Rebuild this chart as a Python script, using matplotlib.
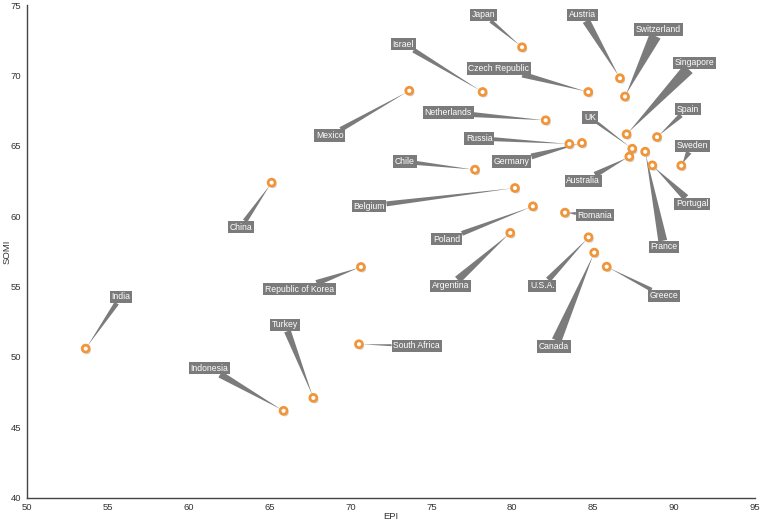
import matplotlib
matplotlib.use('Agg')
import matplotlib.pyplot as plt
import matplotlib.patheffects as pe

plt.rcParams['font.family'] = ['Liberation Sans', 'DejaVu Sans']

countries = ['Japan', 'Austria', 'Switzerland', 'Singapore', 'Israel', 'Czech Republic',
             'Netherlands', 'UK', 'Spain', 'Sweden', 'Russia', 'Germany', 'Chile',
             'Australia', 'Portugal', 'France', 'Mexico', 'China', 'Belgium', 'Poland',
             'Romania', 'Argentina', 'U.S.A.', 'Canada', 'Greece', 'South Africa',
             'Republic of Korea', 'India', 'Turkey', 'Indonesia']
epi = [80.6, 86.65, 86.96, 87.06, 78.16, 84.69,
       82.06, 87.41, 88.94, 90.44, 83.52, 84.30, 77.69,
       87.23, 88.65, 88.21, 73.63, 65.12, 80.16, 81.27,
       83.25, 79.87, 84.71, 85.06, 85.83, 70.52,
       70.64, 53.63, 67.70, 65.86]
somi = [72.0, 69.8, 68.5, 65.82, 68.82, 68.82,
        66.81, 64.79, 65.62, 63.59, 65.13, 65.2, 63.30,
        64.23, 63.61, 64.58, 68.91, 62.38, 62.0, 60.70,
        60.25, 58.81, 58.50, 57.41, 56.41, 50.9,
        56.39, 50.59, 47.09, 46.17]

# where each callout box sits (data coords)
label_x = [78.2, 84.34, 89.02, 91.24, 73.26, 79.17,
           76.04, 84.80, 90.85, 91.12, 77.94, 79.96, 73.36,
           84.38, 91.12, 89.37, 68.71, 63.21, 71.14, 75.94,
           85.10, 76.19, 81.85, 82.57, 89.35, 74.08,
           66.83, 55.81, 65.95, 61.27]
label_y = [74.31, 74.31, 73.25, 70.9, 72.23, 70.50,
           67.35, 67.02, 67.61, 64.99, 65.53, 63.87, 63.87,
           62.5, 60.87, 57.81, 65.72, 59.21, 60.72, 58.36,
           60.08, 55.04, 55.04, 50.73, 54.33, 50.78,
           54.81, 54.26, 52.27, 49.2]
# wedge base width in pixels
wedge_px = [4, 8, 12, 12, 5, 6, 5, 3, 5, 6, 4, 6, 4, 6, 7, 9, 5, 5, 5, 5,
            3, 8, 6, 10, 4, 2, 6, 5, 7, 7]

grey = '#7b7b7b'
fs = 6.2

fig = plt.figure(figsize=(7.6, 5.22), dpi=100)
ax = fig.add_axes([0.0355, 0.0466, 0.958, 0.9438])

for name, x, y, lx, ly, w in zip(countries, epi, somi, label_x, label_y, wedge_px):
    tw = w / (fs * 100 / 72)
    ax.annotate(name, xy=(x, y), xytext=(lx, ly), textcoords='data',
                ha='center', va='center', fontsize=fs, color='white', zorder=3,
                bbox=dict(boxstyle='square,pad=0.2', fc=grey, ec='none'),
                arrowprops=dict(arrowstyle='wedge,tail_width=%.3f' % tw,
                                fc=grey, ec='none', shrinkA=0, shrinkB=2))

ax.plot(epi, somi, 'o', ms=5, mfc='white', mec='#f0953a', mew=2.0, zorder=5,
        path_effects=[pe.SimplePatchShadow(offset=(1.2, -1.5), shadow_rgbFace='#888888', alpha=0.35),
                      pe.Normal()])

ax.set_xlim(50, 95)
ax.set_ylim(40, 75)
ax.set_xticks(range(50, 96, 5))
ax.set_yticks(range(40, 76, 5))
ax.tick_params(length=0, labelsize=6.8, colors='#333333', pad=4)
for s in ['top', 'right']:
    ax.spines[s].set_visible(False)
for s in ['left', 'bottom']:
    ax.spines[s].set_color('#444444')
    ax.spines[s].set_linewidth(1.0)
ax.set_xlabel('EPI', fontsize=6.8, color='#333333')
ax.set_ylabel('SOMI', fontsize=6.8, color='#333333')
ax.xaxis.set_label_coords(0.5, -0.029)
ax.yaxis.set_label_coords(-0.021, 0.5)

fig.savefig('out.png', dpi=100)
